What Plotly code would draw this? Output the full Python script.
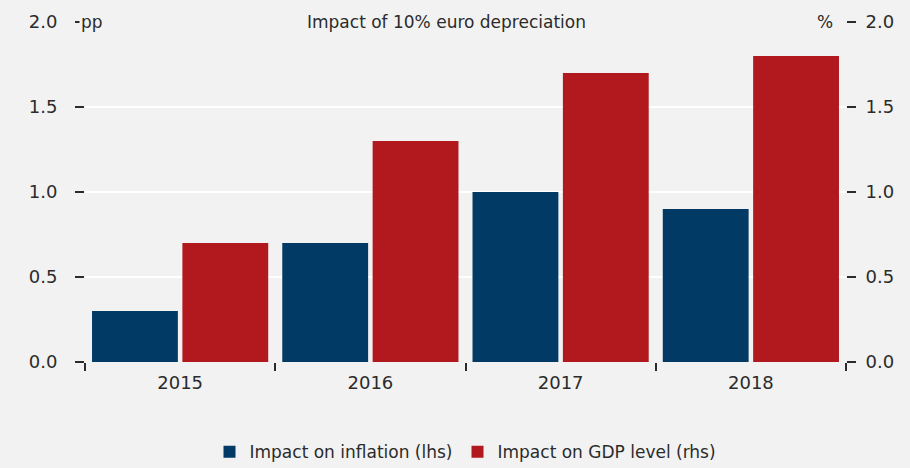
import plotly.graph_objects as go

years = ["2015", "2016", "2017", "2018"]
inflation = [0.3, 0.7, 1.0, 0.9]
gdp = [0.7, 1.3, 1.7, 1.8]
y_ticks = [0.0, 0.5, 1.0, 1.5, 2.0]
y_ticktext = ["0.0", "0.5", "1.0", "1.5", "2.0"]

BLUE = "#023a66"
RED = "#b2191e"
BG = "#f2f2f2"
TXT = "#2b2b2b"
FONT = "DejaVu Sans"

fig = go.Figure()
fig.add_trace(go.Bar(x=years, y=inflation, name="Impact on inflation (lhs)",
                     marker=dict(color=BLUE, line=dict(width=0)),
                     offsetgroup="a", yaxis="y"))
fig.add_trace(go.Bar(x=years, y=gdp, name="Impact on GDP level (rhs)",
                     marker=dict(color=RED, line=dict(width=0)),
                     offsetgroup="b", yaxis="y2"))

axis_common = dict(range=[0, 2.0], tickvals=y_ticks, ticktext=y_ticktext,
                   ticks="outside", ticklen=9, tickwidth=1.5, tickcolor=TXT,
                   tickfont=dict(size=18, color=TXT, family=FONT),
                   showline=False, zeroline=False, automargin=False)

fig.update_layout(
    width=910, height=468,
    paper_bgcolor=BG, plot_bgcolor=BG,
    margin=dict(l=85, r=64, t=22, b=106, autoexpand=False),
    barmode="group", bargap=0.05, bargroupgap=0.05,
    font=dict(family=FONT, color=TXT),
    xaxis=dict(tickson="boundaries", ticks="outside", ticklen=8, tickwidth=1.5,
               tickcolor=TXT, showgrid=False, showline=False, ticklabelstandoff=8,
               automargin=False,
               tickfont=dict(size=18, color=TXT, family=FONT)),
    yaxis=dict(**axis_common, side="left", showgrid=True, gridcolor="white", gridwidth=2,
               ticklabelstandoff=14),
    yaxis2=dict(**axis_common, side="right", overlaying="y", showgrid=False,
                ticklabelstandoff=6),
    showlegend=True,
    legend=dict(orientation="h", x=0.5, xanchor="center", xref="paper",
                y=0.034, yanchor="middle", yref="container",
                font=dict(size=17, color=TXT, family=FONT), bgcolor="rgba(0,0,0,0)",
                traceorder="normal", itemwidth=30),
)

fig.add_annotation(text="Impact of 10% euro depreciation", xref="paper", yref="paper",
                   x=0.475, y=1.0, xanchor="center", yanchor="middle", showarrow=False,
                   font=dict(size=17, color=TXT, family=FONT), bgcolor=BG)
fig.add_annotation(text="pp", xref="paper", yref="paper", x=-0.008, y=1.0,
                   xanchor="left", yanchor="middle", showarrow=False,
                   font=dict(size=17, color=TXT, family=FONT), bgcolor=BG)
fig.add_annotation(text="%", xref="paper", yref="paper", x=0.985, y=1.0,
                   xanchor="right", yanchor="middle", showarrow=False,
                   font=dict(size=17, color=TXT, family=FONT), bgcolor=BG)

fig.write_html("out.html")
